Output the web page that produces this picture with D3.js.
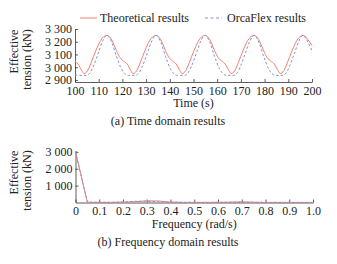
<!DOCTYPE html>
<html>
<head>
<meta charset="utf-8">
<script src="https://d3js.org/d3.v7.min.js"></script>
<style>
  body { margin: 0; background: #fff; }
  svg text { font-family: "Liberation Serif", "DejaVu Serif", serif; fill: #222; }
  .axis path, .axis line { stroke: #333; stroke-width: 0.8; }
  .axis text { font-size: 12px; }
</style>
</head>
<body>
<div id="chart"></div>
<script>
// time domain (s, kN)
const theoTime = [100, 101.3, 102.8, 103.8, 105.3, 106.8, 108.8, 110.8, 113.5, 115.5, 117.5, 119.0, 120.5, 122.0, 123.5, 124.5, 126.0, 127.5, 129.5, 131.5, 134.2, 136.2, 138.2, 139.7, 141.2, 142.7, 144.2, 145.2, 146.7, 148.2, 150.2, 152.2, 154.9, 156.9, 158.9, 160.4, 161.9, 163.4, 164.9, 165.9, 167.4, 168.9, 170.9, 172.9, 175.6, 177.6, 179.6, 181.1, 182.6, 184.1, 185.6, 186.6, 188.1, 189.6, 191.6, 193.6, 196.3, 198.3, 200];
const theoValues = [3045, 3025, 2975, 2950, 2972, 3035, 3130, 3210, 3250, 3215, 3130, 3075, 3048, 3025, 2975, 2950, 2972, 3035, 3130, 3210, 3250, 3215, 3130, 3075, 3048, 3025, 2975, 2950, 2972, 3035, 3130, 3210, 3250, 3215, 3130, 3075, 3048, 3025, 2975, 2950, 2972, 3035, 3130, 3210, 3250, 3215, 3130, 3075, 3048, 3025, 2975, 2950, 2972, 3035, 3130, 3210, 3250, 3215, 3170];
const orcaTime = [100, 101.8, 104.8, 106.3, 107.8, 109.8, 111.8, 113.5, 115.5, 117.5, 119.5, 121.0, 122.5, 125.5, 127.0, 128.5, 130.5, 132.5, 134.2, 136.2, 138.2, 140.2, 141.7, 143.2, 146.2, 147.7, 149.2, 151.2, 153.2, 154.9, 156.9, 158.9, 160.9, 162.4, 163.9, 166.9, 168.4, 169.9, 171.9, 173.9, 175.6, 177.6, 179.6, 181.6, 183.1, 184.6, 187.6, 189.1, 190.6, 192.6, 194.6, 196.3, 198.3, 200];
const orcaValues = [2940, 2936, 2936, 2955, 3010, 3110, 3210, 3250, 3195, 3085, 2990, 2950, 2936, 2936, 2955, 3010, 3110, 3210, 3250, 3195, 3085, 2990, 2950, 2936, 2936, 2955, 3010, 3110, 3210, 3250, 3195, 3085, 2990, 2950, 2936, 2936, 2955, 3010, 3110, 3210, 3250, 3195, 3085, 2990, 2950, 2936, 2936, 2955, 3010, 3110, 3210, 3250, 3195, 3130];

// frequency domain (rad/s, kN)
const freqs = [0, 0.05, 0.1, 0.15, 0.2, 0.25, 0.3, 0.35, 0.4, 0.45, 0.5, 0.55, 0.6, 0.65, 0.7, 0.75, 0.8, 0.85, 0.9, 0.95, 1.0];
const theoSpec = [3000, 15, 10, 8, 20, 45, 95, 90, 25, 10, 8, 6, 10, 20, 40, 15, 6, 5, 5, 4, 4];
const orcaSpec = [3000, 15, 10, 8, 30, 70, 80, 45, 15, 8, 6, 5, 8, 12, 20, 10, 5, 4, 4, 4, 4];

const timeTicks = [100, 110, 120, 130, 140, 150, 160, 170, 180, 190, 200];
const tensionTicks = [2900, 3000, 3100, 3200, 3300];
const freqTicks = [0, 0.1, 0.2, 0.3, 0.4, 0.5, 0.6, 0.7, 0.8, 0.9, 1.0];
const specTicks = [1000, 2000, 3000];

const red = "#f2806c";
const blue = "#8094dc";

const svg = d3.select("#chart").append("svg")
  .attr("width", 337).attr("height", 264);

const fmtThousands = d => d3.format(",")(d).replace(",", " ");

function panel(opts) {
  const g = svg.append("g");
  const x = d3.scaleLinear().domain(opts.xDomain).range([opts.left, opts.right]);
  const y = d3.scaleLinear().domain(opts.yDomain).range([opts.bottom, opts.top]);

  g.append("g").attr("class", "axis")
    .attr("transform", `translate(0,${opts.bottom})`)
    .call(d3.axisBottom(x).tickValues(opts.xTicks).tickFormat(opts.xFormat)
      .tickSizeInner(-3).tickSizeOuter(0).tickPadding(4));

  g.append("g").attr("class", "axis")
    .attr("transform", `translate(${opts.left},0)`)
    .call(d3.axisLeft(y).tickValues(opts.yTicks).tickFormat(fmtThousands)
      .tickSizeInner(-3).tickSizeOuter(0).tickPadding(3));

  const line = d3.line().x(d => x(d[0])).y(d => y(d[1])).curve(opts.curve);

  g.append("path").datum(d3.zip(opts.theoX, opts.theoY))
    .attr("d", line).attr("fill", "none")
    .attr("stroke", red).attr("stroke-width", 1);

  g.append("path").datum(d3.zip(opts.orcaX, opts.orcaY))
    .attr("d", line).attr("fill", "none")
    .attr("stroke", blue).attr("stroke-width", 1)
    .attr("stroke-dasharray", "2.5,2");

  const cy = (opts.top + opts.bottom) / 2;
  g.append("text")
    .attr("transform", `translate(18,${cy - 4}) rotate(-90)`)
    .attr("text-anchor", "middle").attr("font-size", 12)
    .text("Effective");
  g.append("text")
    .attr("transform", `translate(31,${cy + 4}) rotate(-90)`)
    .attr("text-anchor", "middle").attr("font-size", 12)
    .text("tension (kN)");

  g.append("text")
    .attr("x", (opts.left + opts.right) / 2).attr("y", opts.bottom + 25)
    .attr("text-anchor", "middle").attr("font-size", 12)
    .text(opts.xTitle);

  g.append("text")
    .attr("x", 168).attr("y", opts.bottom + 43)
    .attr("text-anchor", "middle").attr("font-size", 12)
    .text(opts.caption);
}

panel({
  xDomain: [100, 200], yDomain: [2884, 3300],
  left: 75, right: 312, top: 29, bottom: 82,
  xTicks: timeTicks, yTicks: tensionTicks, xFormat: d3.format("d"),
  theoX: theoTime, theoY: theoValues, orcaX: orcaTime, orcaY: orcaValues,
  curve: d3.curveMonotoneX,
  xTitle: "Time (s)", caption: "(a) Time domain results"
});

panel({
  xDomain: [0, 1], yDomain: [0, 3080],
  left: 75.5, right: 313, top: 150.5, bottom: 202.5,
  xTicks: freqTicks, yTicks: specTicks, xFormat: d => d === 0 ? "0" : d3.format(".1f")(d),
  theoX: freqs, theoY: theoSpec, orcaX: freqs, orcaY: orcaSpec,
  curve: d3.curveLinear,
  xTitle: "Frequency (rad/s)", caption: "(b) Frequency domain results"
});

// legend
const legend = svg.append("g").attr("font-size", 12);
legend.append("line").attr("x1", 80).attr("x2", 97).attr("y1", 18).attr("y2", 18)
  .attr("stroke", red).attr("stroke-width", 1);
legend.append("text").attr("x", 100).attr("y", 22).attr("font-size", 12).text("Theoretical results");
legend.append("line").attr("x1", 205).attr("x2", 222).attr("y1", 18).attr("y2", 18)
  .attr("stroke", blue).attr("stroke-width", 1).attr("stroke-dasharray", "3,2.5");
legend.append("text").attr("x", 227).attr("y", 22).attr("font-size", 12).text("OrcaFlex results");
</script>
</body>
</html>
